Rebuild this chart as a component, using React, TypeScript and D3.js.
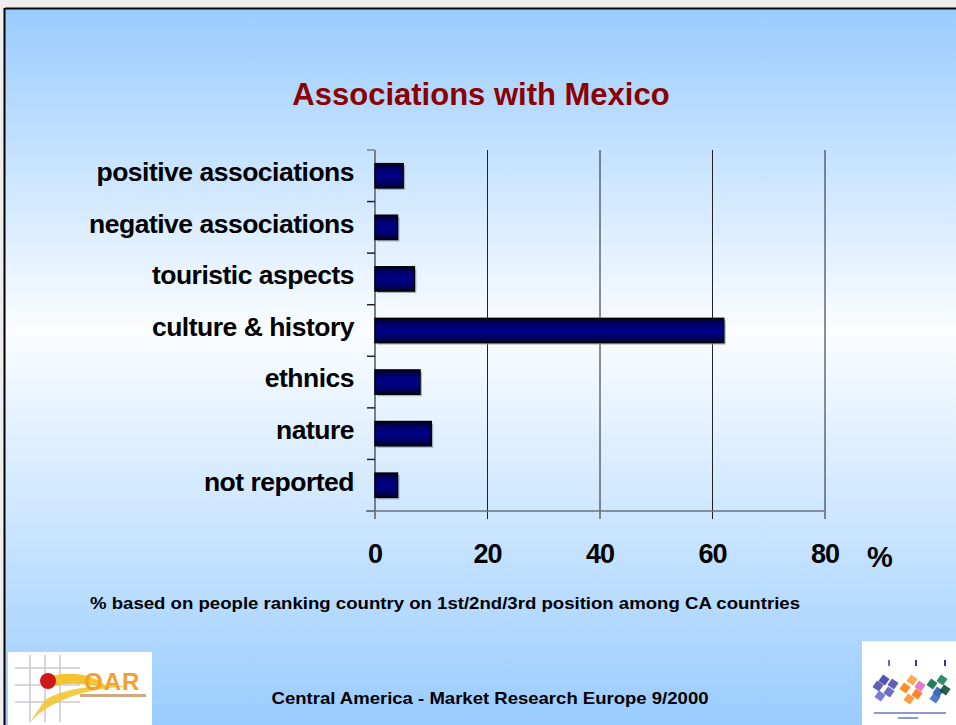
import React from "react";
import * as d3 from "d3";

const categories = [
  "positive associations",
  "negative associations",
  "touristic aspects",
  "culture & history",
  "ethnics",
  "nature",
  "not reported",
];
const values = [5, 4, 7, 62, 8, 10, 4];
const xTicks = [0, 20, 40, 60, 80];
const title = "Associations with Mexico";
const footnote = "% based on people ranking country on 1st/2nd/3rd position among CA countries";
const footer = "Central America - Market Research Europe 9/2000";

const W = 956;
const H = 725;
const FONT = "'Liberation Sans', Arial, Helvetica, sans-serif";

export default function App() {
  const x = d3.scaleLinear().domain([0, 80]).range([375, 825]);
  const y = d3
    .scaleBand<string>()
    .domain(categories)
    .range([150, 511])
    .paddingInner(0.53)
    .paddingOuter(0.265);
  const plotTop = 150;
  const plotBottom = 511;

  const boundaries = d3.range(categories.length + 1).map((i) => plotTop + i * ((plotBottom - plotTop) / categories.length));

  return (
    <svg
      width={W}
      height={H}
      style={{ position: "absolute", left: 0, top: 0, display: "block" }}
      fontFamily={FONT}
    >
      <defs>
        <linearGradient id="bg" x1="0" y1="0" x2="0" y2="1">
          <stop offset="0" stopColor="#99ccff" />
          <stop offset="0.45" stopColor="#fbfdff" />
          <stop offset="1" stopColor="#99ccff" />
        </linearGradient>
        <linearGradient id="bar" x1="0" y1="0" x2="0" y2="1">
          <stop offset="0" stopColor="#000022" />
          <stop offset="0.2" stopColor="#000066" />
          <stop offset="0.5" stopColor="#00008a" />
          <stop offset="0.8" stopColor="#000066" />
          <stop offset="1" stopColor="#000022" />
        </linearGradient>
      </defs>

      {/* page background outside slide */}
      <rect x={0} y={0} width={W} height={H} fill="#eeeeee" />
      <rect x={5} y={9} width={W - 5} height={H - 9} fill="url(#bg)" />
      <line x1={5} y1={8.5} x2={W} y2={8.5} stroke="#000" strokeWidth={2} />
      <line x1={4.5} y1={8} x2={4.5} y2={H} stroke="#000" strokeWidth={2} />

      {/* title */}
      <text x={481} y={105} textAnchor="middle" fontSize={31} fontWeight="bold" fill="#8b0000">
        {title}
      </text>

      {/* gridlines */}
      {xTicks.map((t) => (
        <line
          key={"g" + t}
          x1={x(t)}
          x2={x(t)}
          y1={t === 0 ? plotBottom : plotTop}
          y2={plotBottom + 8}
          stroke={t === 0 ? "#777" : "#222"}
          strokeWidth={1}
        />
      ))}

      {/* y axis */}
      <line x1={375} x2={375} y1={plotTop} y2={plotBottom + 8} stroke="#7a7f87" strokeWidth={2} />
      {boundaries.map((b, i) => (
        <line key={"yt" + i} x1={367} x2={375} y1={b} y2={b} stroke={i === 0 || i === boundaries.length - 1 ? "#7a7f87" : "#222"} strokeWidth={1.5} />
      ))}
      <line x1={366} x2={825} y1={plotBottom} y2={plotBottom} stroke="#6c7078" strokeWidth={1.5} />

      {/* bars */}
      {categories.map((c, i) => {
        const by = y(c) as number;
        const bw = x(values[i]) - x(0);
        return (
          <g key={c}>
            <rect x={x(0) + 2} y={by + 2} width={bw} height={y.bandwidth()} fill="#8a96a8" opacity={0.7} />
            <rect
              x={x(0)}
              y={by}
              width={bw}
              height={y.bandwidth()}
              fill="url(#bar)"
              stroke="#000"
              strokeWidth={1.5}
            />
          </g>
        );
      })}

      {/* category labels */}
      {categories.map((c) => (
        <text
          key={"l" + c}
          x={354}
          y={(y(c) as number) + y.bandwidth() / 2}
          dy="0.2em"
          textAnchor="end"
          fontSize={26.5}
          fontWeight="bold"
          letterSpacing={-0.5}
          fill="#000"
        >
          {c}
        </text>
      ))}

      {/* x tick labels */}
      {xTicks.map((t) => (
        <text
          key={"xl" + t}
          x={x(t)}
          y={563}
          textAnchor="middle"
          fontSize={27}
          fontWeight="bold"
          letterSpacing={-1}
          fill="#000"
        >
          {t}
        </text>
      ))}
      <text x={880} y={567} textAnchor="middle" fontSize={29} fontWeight="bold" fill="#000">
        %
      </text>

      {/* footnote */}
      <text x={90} y={609} fontSize={16.5} fontWeight="bold" fill="#000" textLength={710} lengthAdjust="spacingAndGlyphs">
        {footnote}
      </text>

      {/* footer */}
      <text x={490} y={704} textAnchor="middle" fontSize={17} fontWeight="bold" fill="#000" textLength={437} lengthAdjust="spacingAndGlyphs">
        {footer}
      </text>

      {/* left logo */}
      <g>
        <rect x={8} y={652} width={144} height={73} fill="#ffffff" />
        {[30, 45, 60].map((gx) => (
          <line key={"lv" + gx} x1={gx} x2={gx} y1={655} y2={722} stroke="#c8c8d0" strokeWidth={1.5} />
        ))}
        {[668, 685, 702].map((gy) => (
          <line key={"lh" + gy} x1={15} x2={80} y1={gy} y2={gy} stroke="#c8c8d0" strokeWidth={1.5} />
        ))}
        <path d="M30,722 Q60,690 130,686 Q70,684 45,700 Z" fill="#f4c430" opacity={0.9} />
        <path d="M50,676 Q90,668 110,690 Q80,680 52,686 Z" fill="#f4c430" />
        <circle cx={48} cy={681} r={8} fill="#d01818" />
        <text x={84} y={690} fontSize={24} fontWeight="bold" fill="#f0a030" letterSpacing={1}>
          OAR
        </text>
        <rect x={80} y={694} width={66} height={3} fill="#b07030" opacity={0.6} />
      </g>

      {/* right logo */}
      <g>
        <rect x={862} y={641} width={94} height={84} fill="#ffffff" />
        {[
          [878, 686, "#4444aa"], [884, 680, "#3333aa"], [889, 692, "#5555bb"], [880, 696, "#6666cc"], [893, 684, "#4444aa"],
          [905, 688, "#ff7a00"], [912, 680, "#ff9a30"], [917, 694, "#ff6a00"], [909, 699, "#ff8a20"], [920, 686, "#e060c0"],
          [932, 684, "#006644"], [938, 692, "#2255aa"], [942, 680, "#117755"], [935, 698, "#3366bb"], [945, 690, "#004433"],
        ].map((p, i) => (
          <rect key={"b" + i} x={(p[0] as number) - 4} y={(p[1] as number) - 4} width={8} height={8} fill={p[2] as string} opacity={0.85} transform={`rotate(35 ${p[0]} ${p[1]})`} />
        ))}
        <line x1={889} x2={889} y1={660} y2={666} stroke="#6666cc" strokeWidth={2} />
        <line x1={916} x2={916} y1={660} y2={666} stroke="#3333aa" strokeWidth={2} />
        <line x1={945} x2={945} y1={660} y2={666} stroke="#3333aa" strokeWidth={2} />
        <rect x={874} y={712} width={72} height={2} fill="#4455aa" opacity={0.6} />
        <rect x={898} y={717} width={20} height={2} fill="#4455aa" opacity={0.6} />
      </g>
    </svg>
  );
}
